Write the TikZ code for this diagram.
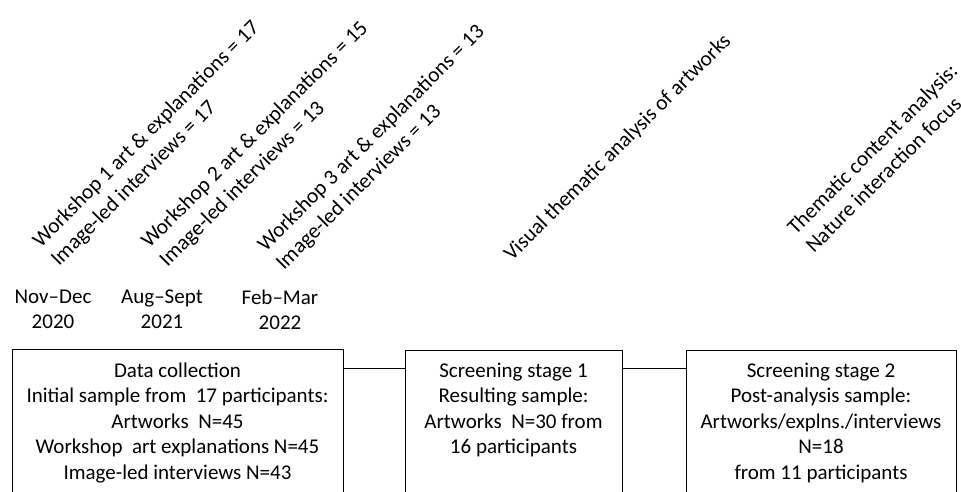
\documentclass[tikz,border=0pt]{standalone}
\usepackage{fontspec}
\setmainfont{Carlito}
\begin{document}
\begin{tikzpicture}[x=1pt,y=-1pt,
  font=\fontsize{21}{25.6}\selectfont,
  boxshape/.style={draw, line width=1pt, anchor=north west, minimum height=200pt, inner sep=0pt},
  boxtext/.style={align=center, anchor=base, inner sep=0pt},
  datetext/.style={align=center, anchor=base, inner sep=0pt},
  rottext/.style={rotate=45, align=left, anchor=base west, inner sep=0pt,
    font=\fontsize{21.4}{26}\selectfont},
  conn/.style={draw, line width=1pt}]
\useasboundingbox (0,0) rectangle (961,491);
\clip (0,0) rectangle (961,491);
% boxes
\node[boxshape, minimum width=331pt] (b1) at (12,349) {};
\node[boxshape, minimum width=217pt] (b2) at (405,350) {};
\node[boxshape, minimum width=270pt] (b3) at (686,350) {};
\coordinate (cy) at (0,368);
\draw[conn] (b1.east |- cy) -- (b2.west |- cy);
\draw[conn] (b2.east |- cy) -- (b3.west |- cy);
% box texts (base anchor = baseline of the last line)
\node[boxtext] (t1) at (177.5,479.4) {Data collection\\Initial sample from\ \ 17 participants:\\Artworks\ \ N=45\\Workshop\ \ art explanations N=45\\Image-led interviews N=43};
\node[boxtext] (t2) at (513.5,453.8) {Screening stage 1\\Resulting sample:\\Artworks\ \ N=30 from\\16 participants};
\node[boxtext] (t3) at (821,479.4) {Screening stage 2\\Post-analysis sample:\\Artworks/explns./interviews\\N=18\\from 11 participants};
% dates
\node[datetext] (d1) at (53,328.6) {Nov–Dec\\2020};
\node[datetext] (d2) at (162,328.6) {Aug–Sept\\2021};
\node[datetext] (d3) at (280,329.6) {Feb–Mar\\2022};
% rotated labels (anchor at start of the last line's baseline)
\node[rottext] (w1) at (59,267) {Workshop 1 art \& explanations = 17\\Image-led interviews = 17};
\node[rottext] (w2) at (167.5,267.5) {Workshop 2 art \& explanations = 15\\Image-led interviews = 13};
\node[rottext] (w3) at (284,271) {Workshop 3 art \& explanations = 13\\Image-led interviews = 13};
\node[rottext] (v1) at (512,262) {Visual thematic analysis of artworks};
\node[rottext] (v2) at (814,254) {Thematic content analysis:\\Nature interaction focus};
\end{tikzpicture}
\end{document}
